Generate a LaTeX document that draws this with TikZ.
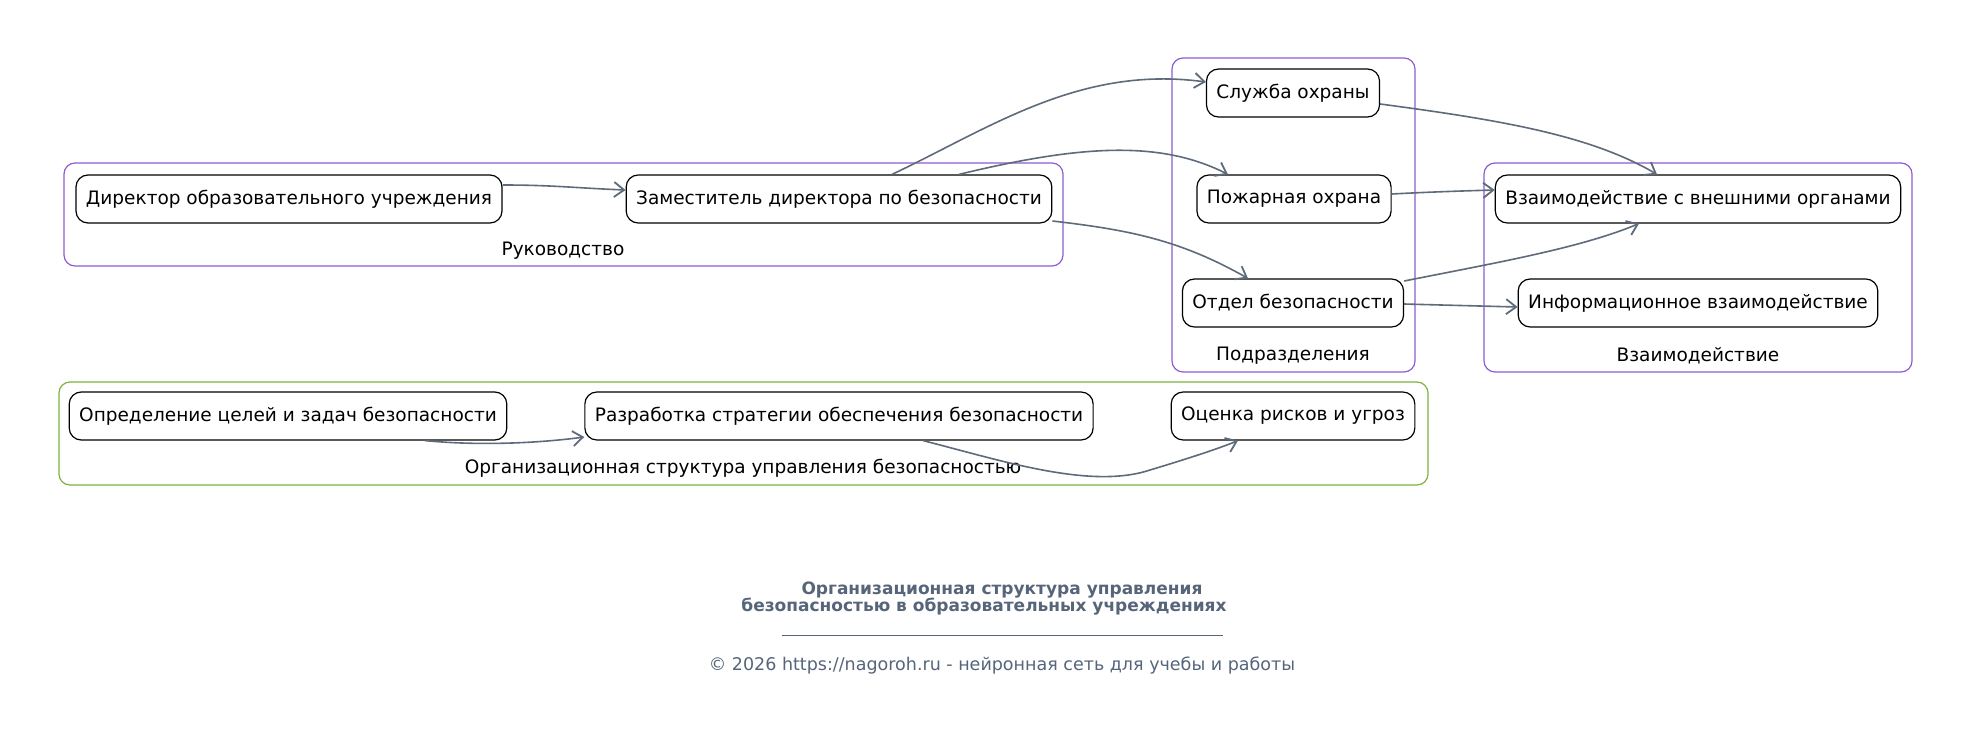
\documentclass[tikz,border=0pt]{standalone}
\usepackage{fontspec}
\setmainfont{DejaVu Sans}
\usetikzlibrary{arrows.meta,calc}
\definecolor{edgec}{HTML}{5E6B7A}
\definecolor{clpurple}{HTML}{8E5BD0}
\definecolor{clgreen}{HTML}{7FB33E}
\definecolor{titlec}{HTML}{56657A}
\tikzset{
  x=1pt,y=-1pt,
  box/.style={draw=black,line width=1.2pt,rounded corners=12pt,fill=white,
    minimum height=48pt,inner xsep=10pt,font=\fontsize{18.5}{22}\selectfont},
  cluster/.style={draw=clpurple,line width=1.2pt,rounded corners=11pt},
  gcluster/.style={draw=clgreen,line width=1.2pt,rounded corners=11pt},
  cllabel/.style={font=\fontsize{18.5}{22}\selectfont},
  conn/.style={draw=edgec,line width=1.6pt,-{Straight Barb[length=10pt,width=15pt,line width=1.8pt]}},
}
\begin{document}
\begin{tikzpicture}
\useasboundingbox[fill=white] (0,0) rectangle (1971,752);
% clusters
\draw[cluster] (64,163) rectangle (1063,266);
\node[cllabel] (lruk) at (563,251) {Руководство};
\draw[cluster] (1172,58) rectangle (1415,372);
\node[cllabel] (lpod) at (1293,356) {Подразделения};
\draw[cluster] (1484,163) rectangle (1912,372);
\node[cllabel] (lvz) at (1698,356) {Взаимодействие};
\draw[gcluster] (59,382) rectangle (1428,485);
\node[cllabel] (lorg) at (743,468) {Организационная структура управления безопасностью};
% nodes
\node[box] (dir) at (289,199) {Директор образовательного учреждения};
\node[box] (zam) at (839,199) {Заместитель директора по безопасности};
\node[box] (sl) at (1293,93) {Служба охраны};
\node[box] (poz) at (1294,199) {Пожарная охрана};
\node[box] (otd) at (1293,303) {Отдел безопасности};
\node[box] (vzv) at (1698,199) {Взаимодействие с внешними органами};
\node[box] (inf) at (1698,303) {Информационное взаимодействие};
\node[box] (opr) at (288,416) {Определение целей и задач безопасности};
\node[box] (raz) at (839,416) {Разработка стратегии обеспечения безопасности};
\node[box] (oc) at (1293,416) {Оценка рисков и угроз};
% edges
\draw[conn] ($(dir.east)+(0,-14)$) .. controls ($(dir.east)+(50,-14)$) and ($(zam.west)+(-50,-11)$) .. ($(zam.west)+(0,-9)$);
\draw[conn] ($(zam.north)+(53,0)$) .. controls (990,128) and (1080,65) .. ($(sl.west)+(0,-11)$);
\draw[conn] ($(zam.north)+(120,0)$) .. controls (1080,145) and (1160,140) .. ($(poz.north)+(-66,0)$);
\draw[conn] ($(zam.east)+(0,22)$) .. controls (1130,230) and (1180,240) .. ($(otd.north)+(-45,0)$);
\draw[conn] ($(sl.east)+(0,11)$) .. controls (1500,120) and (1590,135) .. ($(vzv.north)+(-41,0)$);
\draw[conn] ($(poz.east)+(0,-5)$) .. controls (1430,192) and (1460,191) .. ($(vzv.west)+(0,-9)$);
\draw[conn] ($(otd.east)+(0,-22)$) .. controls (1500,262) and (1580,248) .. ($(vzv.south)+(-59,0)$);
\draw[conn] ($(otd.east)+(0,1)$) .. controls (1440,305) and (1480,306) .. ($(inf.west)+(0,4)$);
\draw[conn] ($(opr.south)+(137,0)$) .. controls (480,446) and (540,443) .. ($(raz.west)+(0,21)$);
\draw[conn] ($(raz.south)+(84,0)$) .. controls (1000,460) and (1090,490) .. (1150,470) .. controls (1190,458) and (1220,448) .. ($(oc.south)+(-55,0)$);
% title
\node[font=\bfseries\fontsize{17}{20}\selectfont,text=titlec,align=center] (t1) at (1002,590) {Организационная структура управления};
\node[font=\bfseries\fontsize{17}{20}\selectfont,text=titlec,align=center] (t2) at (984,607) {безопасностью в образовательных учреждениях};
\draw[titlec,line width=0.8pt] (782,635) -- (1223,635);
\node[font=\fontsize{17.5}{21}\selectfont,text=titlec] (copy) at (1002,666) {© 2026 https://nagoroh.ru - нейронная сеть для учебы и работы};
\end{tikzpicture}
\end{document}
